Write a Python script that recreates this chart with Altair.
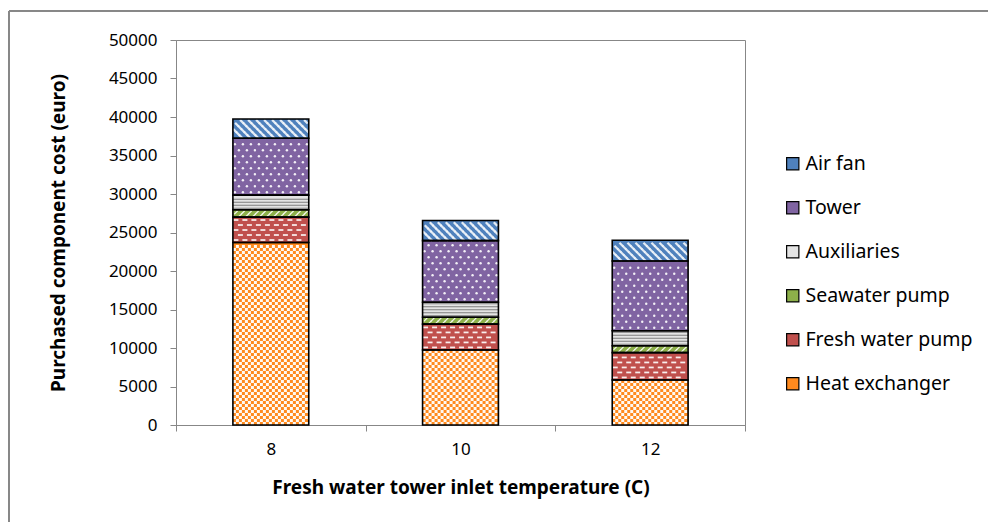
import altair as alt
import pandas as pd

# ---- data -------------------------------------------------------------
temps = [8, 10, 12]
components = ["Heat exchanger", "Fresh water pump", "Seawater pump",
              "Auxiliaries", "Tower", "Air fan"]
heat_exchanger = [23700, 9750, 5850]
fresh_water_pump = [3300, 3350, 3550]
seawater_pump = [950, 900, 900]
auxiliaries = [1900, 1950, 1950]
tower = [7400, 8000, 9050]
air_fan = [2500, 2600, 2700]

series = [heat_exchanger, fresh_water_pump, seawater_pump,
          auxiliaries, tower, air_fan]
rows = []
for order, (name, vals) in enumerate(zip(components, series)):
    for t, v in zip(temps, vals):
        rows.append({"temp": t, "component": name, "value": v, "order": order})
df = pd.DataFrame(rows)

# ---- geometry / style ---------------------------------------------------
W, H = 569, 385
X_DOM = [7, 13]
Y_MAX = 50000
UX = (X_DOM[1] - X_DOM[0]) / W      # x data units per pixel
UY = Y_MAX / H                       # y data units per pixel
HALF = 0.4                           # half bar width in x units
BAR_PX = 2 * HALF / UX

FONT = "Noto Sans"
GRAY = "#878787"

legend_order = components[::-1]
base_colors = {
    "Air fan": "#4F81BD",
    "Tower": "#8064A2",
    "Auxiliaries": "#E4E4E4",
    "Seawater pump": "#8DB04A",
    "Fresh water pump": "#C0504D",
    "Heat exchanger": "#FF8A1E",
}

x_scale = alt.Scale(domain=X_DOM, nice=False, zero=False)
y_scale = alt.Scale(domain=[0, Y_MAX], nice=False)

x_axis = alt.Axis(
    values=[7, 8, 9, 10, 11, 12, 13],
    labelExpr="datum.value % 2 == 0 ? datum.label : ''",
    tickOpacity={"condition": {"test": "datum.value % 2 == 0", "value": 0}, "value": 1},
    tickSize=6, labelPadding=10, labelFontSize=17, labelFont=FONT, labelColor="black",
    labelFlush=False,
    domainColor=GRAY, tickColor=GRAY, grid=False,
    title="Fresh water tower inlet temperature (C)",
    titleFont=FONT, titleFontSize=19, titleFontWeight="bold", titleColor="black",
    titleX=W / 2, titleY=62, titleBaseline="middle", titleAlign="center",
)
y_axis = alt.Axis(
    values=list(range(0, Y_MAX + 1, 5000)), format="d",
    tickSize=6, labelPadding=13, labelFontSize=17, labelFont=FONT, labelColor="black",
    domainColor=GRAY, tickColor=GRAY, grid=False,
    title="Purchased component cost (euro)",
    titleFont=FONT, titleFontSize=19, titleFontWeight="bold", titleColor="black",
    titleX=-118, titleY=H / 2, titleBaseline="middle", titleAlign="center", titleAngle=-90,
)


def X(field):
    return alt.X(field, type="quantitative", scale=x_scale, axis=x_axis)


def Y(field):
    return alt.Y(field, type="quantitative", scale=y_scale, axis=y_axis)


base = (
    alt.Chart(df)
    .transform_stack(stack="value", groupby=["temp"], as_=["y0", "y1"],
                     sort=[alt.SortField("order", order="ascending")])
    .transform_calculate(xl=f"datum.temp - {HALF}", xr=f"datum.temp + {HALF}")
)

# solid segment fills (carry the legend)
fills = base.mark_bar(strokeWidth=0).encode(
    x=X("xl"), x2=alt.X2("xr"), y=Y("y0"), y2=alt.Y2("y1"),
    color=alt.Color(
        "component:N",
        scale=alt.Scale(domain=legend_order, range=[base_colors[c] for c in legend_order]),
        legend=alt.Legend(
            title=None, orient="none", legendX=607, legendY=114,
            symbolType="square", symbolSize=150, symbolStrokeColor="black",
            symbolStrokeWidth=1.2, symbolOpacity=1,
            labelFont=FONT, labelFontSize=19.5, labelColor="black",
            labelOffset=3, labelLimit=300, rowPadding=23,
        ),
    ),
)


def grid(comp, row_px, col_px, phase, inset):
    """Lattice of texture points inside each segment of one component."""
    n_cols = int(BAR_PX // col_px) + 3
    return (
        base.transform_filter(alt.datum.component == comp)
        .transform_calculate(rws=f"sequence(0, floor((datum.y1 - datum.y0) / {UY} / {row_px}))")
        .transform_flatten(["rws"], as_=["k"])
        .transform_calculate(cls=f"sequence(-1, {n_cols})")
        .transform_flatten(["cls"], as_=["j"])
        .transform_calculate(xpx=f"({phase}) + datum.j * {col_px}")
        .transform_filter(f"datum.xpx >= {inset} && datum.xpx <= {BAR_PX - inset}")
        .transform_calculate(
            px=f"datum.xl + datum.xpx * {UX}",
            py=f"datum.y0 + (datum.k + 0.5) * {row_px * UY}",
        )
    )


# heat exchanger: small checkerboard
checker = grid("Heat exchanger", 3, 6, "(datum.k % 2) * 3 + 1.5", 1.4).mark_square(
    size=9, color="white", opacity=0.95).encode(x=X("px"), y=Y("py"))

# fresh water pump: staggered short dashes
dashes = grid("Fresh water pump", 5, 9, "(datum.k % 2) * 4.5 + 3", 2.5).mark_point(
    shape="M-1,-0.35L1,-0.35L1,0.35L-1,0.35Z", size=25, filled=True,
    color="white", opacity=0.9, strokeWidth=0).encode(x=X("px"), y=Y("py"))

# seawater pump: thin upward diagonals
sea = grid("Seawater pump", 3, 7, "(datum.k * 3) % 7", 1.6).mark_point(
    shape="M-1,1L1,-1", size=12, filled=False, color="white",
    strokeWidth=1.3, opacity=0.9).encode(x=X("px"), y=Y("py"))

# tower: staggered dots
dots = grid("Tower", 6, 8, "(datum.k % 2) * 4 + 2", 1.5).mark_circle(
    size=6, color="white", opacity=0.9).encode(x=X("px"), y=Y("py"))

# air fan: wide downward diagonals
fan = grid("Air fan", 3, 8, "(8 - (datum.k * 3) % 8) % 8", 1.8).mark_point(
    shape="M-1,-1L1,1", size=13, filled=False, color="white",
    strokeWidth=2.2, opacity=0.85).encode(x=X("px"), y=Y("py"))

# auxiliaries: horizontal stripes
aux = (
    base.transform_filter(alt.datum.component == "Auxiliaries")
    .transform_calculate(rws=f"sequence(0, floor((datum.y1 - datum.y0) / {UY} / 3))")
    .transform_flatten(["rws"], as_=["k"])
    .transform_calculate(py=f"datum.y0 + (datum.k + 0.5) * {3 * UY}")
    .mark_rule(color="#7E7E7E", strokeWidth=1.1)
    .encode(x=X("xl"), x2=alt.X2("xr"), y=Y("py"))
)

# segment outlines
outlines = base.mark_bar(fillOpacity=0, stroke="black", strokeWidth=1.6).encode(
    x=X("xl"), x2=alt.X2("xr"), y=Y("y0"), y2=alt.Y2("y1"))

# outer chart frame (top and left edges)
frame_top = alt.Chart(df).mark_rule(color=GRAY, strokeWidth=1).encode(
    x=alt.value(-167), x2=alt.value(W + 300), y=alt.value(-29))
frame_left = alt.Chart(df).mark_rule(color=GRAY, strokeWidth=1).encode(
    x=alt.value(-167), y=alt.value(-29), y2=alt.value(H + 120))

chart = (
    alt.layer(fills, checker, dashes, sea, aux, dots, fan, outlines, frame_top, frame_left)
    .properties(
        width=W, height=H,
        autosize=alt.AutoSizeParams(type="none"),
        padding={"left": 176, "top": 40, "right": 988 - 176 - W, "bottom": 522 - 40 - H},
        background="white",
    )
    .configure_view(stroke=GRAY, strokeWidth=1)
)

chart.save("out.html", embed_options={"renderer": "svg", "actions": False})
